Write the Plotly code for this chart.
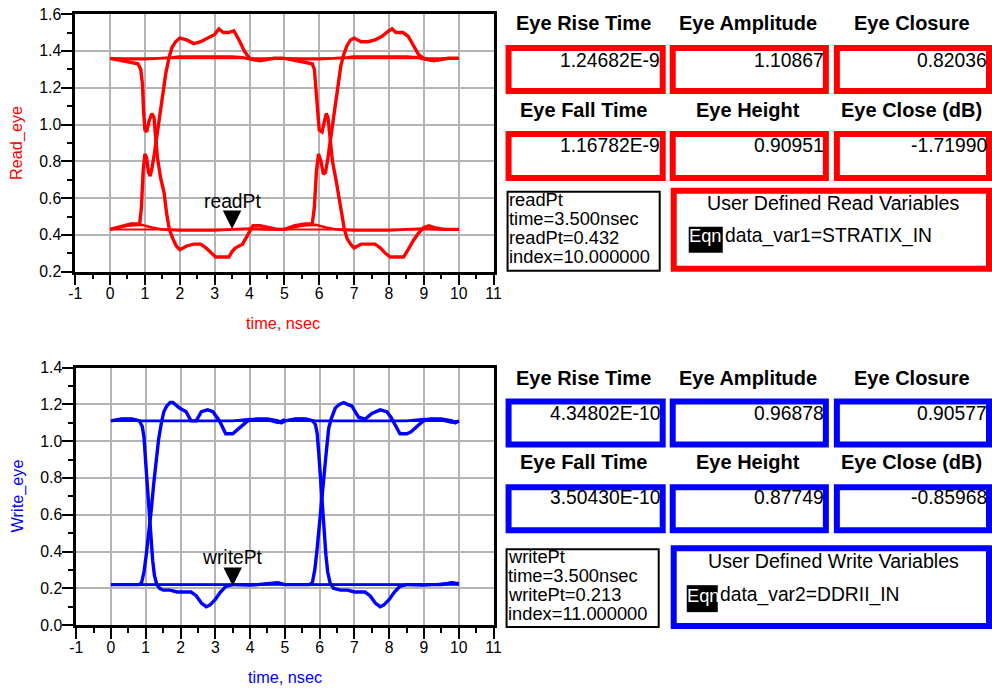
import plotly.graph_objects as go

# ---------------- data ----------------
time_span = [0, 10]
x_tick_vals = [-1, 0, 1, 2, 3, 4, 5, 6, 7, 8, 9, 10, 11]
x_tick_text = ["-1", "0", "1", "2", "3", "4", "5", "6", "7", "8", "9", "10", "11"]

# Read eye (red), values in volts, time in nsec
read_high_level = 1.36
read_low_level = 0.43

read_rise1_t = [0, 0.3, 0.6, 0.85, 0.9, 0.95, 1.0, 1.05, 1.1, 1.15, 1.2, 1.27, 1.35, 1.42, 1.5, 1.6, 1.7, 1.78, 1.88, 2.0, 2.2, 2.4, 2.6, 2.8, 3.0, 3.12, 3.25, 3.4, 3.55, 3.7, 3.85, 4.0, 4.2, 4.4, 4.7, 5.0]
read_rise1_v = [0.43, 0.445, 0.46, 0.46, 0.55, 0.75, 0.84, 0.82, 0.74, 0.72, 0.76, 0.84, 0.95, 1.06, 1.17, 1.28, 1.37, 1.42, 1.45, 1.47, 1.46, 1.44, 1.45, 1.47, 1.49, 1.52, 1.50, 1.50, 1.51, 1.46, 1.40, 1.36, 1.35, 1.35, 1.36, 1.36]
read_fall1_t = [0, 0.3, 0.6, 0.8, 0.88, 0.93, 0.96, 1.0, 1.05, 1.12, 1.2, 1.26, 1.3, 1.36, 1.45, 1.55, 1.62, 1.7, 1.8, 1.9, 2.0, 2.2, 2.4, 2.6, 2.75, 2.9, 3.03, 3.2, 3.41, 3.5, 3.6, 3.8, 3.95, 4.1, 4.3, 4.6, 4.8, 5.0]
read_fall1_v = [1.36, 1.35, 1.34, 1.33, 1.30, 1.22, 1.08, 0.97, 0.96, 1.02, 1.06, 1.04, 0.95, 0.82, 0.71, 0.63, 0.52, 0.43, 0.38, 0.34, 0.32, 0.34, 0.35, 0.35, 0.33, 0.30, 0.28, 0.28, 0.28, 0.31, 0.33, 0.35, 0.40, 0.45, 0.45, 0.44, 0.43, 0.43]
read_high1_t = [0, 0.5, 1.0, 1.5, 1.8, 2.0, 2.5, 3.0, 3.5, 3.8, 4.0, 4.3, 4.6, 5.0]
read_high1_v = [1.36, 1.355, 1.355, 1.36, 1.365, 1.37, 1.37, 1.37, 1.37, 1.365, 1.355, 1.345, 1.36, 1.36]
read_low1_t = [0, 0.5, 0.9, 1.2, 1.5, 2.0, 2.5, 3.0, 3.5, 4.0, 4.5, 5.0]
read_low1_v = [0.43, 0.45, 0.455, 0.44, 0.43, 0.425, 0.425, 0.425, 0.43, 0.435, 0.43, 0.43]

read_rise2_t = [5.0, 5.3, 5.6, 5.8, 5.86, 5.92, 5.98, 6.05, 6.12, 6.18, 6.25, 6.35, 6.45, 6.55, 6.62, 6.7, 6.8, 6.9, 7.0, 7.2, 7.4, 7.6, 7.8, 8.0, 8.09, 8.2, 8.4, 8.55, 8.7, 8.85, 9.0, 9.2, 9.4, 9.7, 10.0]
read_rise2_v = [0.43, 0.45, 0.46, 0.46, 0.55, 0.75, 0.84, 0.80, 0.73, 0.74, 0.82, 0.95, 1.08, 1.22, 1.32, 1.38, 1.43, 1.46, 1.47, 1.45, 1.45, 1.46, 1.48, 1.51, 1.52, 1.50, 1.50, 1.48, 1.43, 1.38, 1.36, 1.35, 1.35, 1.36, 1.36]
read_fall2_t = [5.0, 5.3, 5.6, 5.8, 5.86, 5.9, 5.95, 6.0, 6.08, 6.15, 6.2, 6.25, 6.3, 6.38, 6.48, 6.58, 6.66, 6.72, 6.8, 6.9, 7.0, 7.2, 7.4, 7.6, 7.75, 7.9, 8.04, 8.2, 8.42, 8.55, 8.7, 8.85, 9.0, 9.15, 9.3, 9.6, 9.8, 10.0]
read_fall2_v = [1.36, 1.35, 1.34, 1.33, 1.30, 1.22, 1.08, 0.97, 0.96, 1.02, 1.06, 1.04, 0.95, 0.8, 0.7, 0.6, 0.5, 0.43, 0.38, 0.35, 0.33, 0.35, 0.35, 0.35, 0.33, 0.30, 0.28, 0.28, 0.28, 0.32, 0.37, 0.41, 0.44, 0.45, 0.44, 0.43, 0.43, 0.43]
read_high2_t = [5.0, 5.5, 6.0, 6.5, 6.8, 7.0, 7.5, 8.0, 8.5, 8.8, 9.0, 9.3, 9.6, 10.0]
read_high2_v = [1.36, 1.355, 1.355, 1.36, 1.365, 1.37, 1.37, 1.37, 1.37, 1.365, 1.355, 1.345, 1.36, 1.36]
read_low2_t = [5.0, 5.5, 5.9, 6.2, 6.5, 7.0, 7.5, 8.0, 8.5, 9.0, 9.5, 10.0]
read_low2_v = [0.43, 0.45, 0.455, 0.44, 0.43, 0.425, 0.425, 0.425, 0.43, 0.435, 0.43, 0.43]

# Write eye (blue)
write_high_level = 1.11
write_low_level = 0.22

write_rise1_t = [0, 0.3, 0.6, 0.8, 0.88, 0.95, 1.02, 1.09, 1.16, 1.23, 1.3, 1.37, 1.45, 1.52, 1.6, 1.7, 1.78, 1.85, 1.97, 2.16, 2.3, 2.45, 2.6, 2.78, 2.93, 3.12, 3.3, 3.5, 3.69, 3.93, 4.2, 4.5, 4.8, 4.9, 5.0]
write_rise1_v = [0.22, 0.22, 0.22, 0.22, 0.23, 0.29, 0.39, 0.50, 0.63, 0.77, 0.90, 1.01, 1.10, 1.16, 1.19, 1.21, 1.21, 1.20, 1.18, 1.16, 1.11, 1.11, 1.16, 1.17, 1.16, 1.11, 1.04, 1.04, 1.07, 1.11, 1.12, 1.12, 1.11, 1.10, 1.11]
write_fall1_t = [0, 0.3, 0.6, 0.82, 0.9, 0.95, 1.0, 1.05, 1.1, 1.15, 1.2, 1.25, 1.32, 1.4, 1.5, 1.7, 1.9, 2.1, 2.3, 2.45, 2.6, 2.74, 2.85, 3.0, 3.15, 3.3, 3.5, 3.9, 4.2, 4.5, 4.8, 5.0]
write_fall1_v = [1.11, 1.12, 1.12, 1.11, 1.08, 1.02, 0.88, 0.74, 0.60, 0.47, 0.35, 0.27, 0.22, 0.20, 0.19, 0.19, 0.18, 0.18, 0.18, 0.16, 0.12, 0.10, 0.11, 0.14, 0.18, 0.21, 0.22, 0.22, 0.22, 0.225, 0.23, 0.22]
write_high1_t = [0, 0.3, 0.6, 0.9, 1.2, 1.5, 2.0, 2.5, 3.0, 3.5, 4.0, 4.3, 4.6, 4.8, 5.0]
write_high1_v = [1.11, 1.12, 1.12, 1.11, 1.11, 1.11, 1.11, 1.11, 1.11, 1.11, 1.12, 1.12, 1.11, 1.10, 1.12]
write_low1_t = [0, 0.5, 1.0, 1.5, 2.0, 2.5, 3.0, 3.5, 4.0, 4.5, 4.8, 5.0]
write_low1_v = [0.22, 0.22, 0.22, 0.22, 0.22, 0.22, 0.22, 0.22, 0.215, 0.225, 0.23, 0.22]

write_rise2_t = [5.0, 5.4, 5.7, 5.79, 5.86, 5.92, 5.98, 6.05, 6.12, 6.19, 6.26, 6.33, 6.45, 6.57, 6.69, 6.8, 6.93, 7.02, 7.12, 7.31, 7.5, 7.74, 7.93, 8.05, 8.17, 8.31, 8.5, 8.62, 8.74, 8.98, 9.2, 9.5, 9.8, 9.9, 10.0]
write_rise2_v = [0.22, 0.22, 0.22, 0.23, 0.30, 0.40, 0.51, 0.66, 0.80, 0.94, 1.07, 1.12, 1.18, 1.20, 1.21, 1.20, 1.19, 1.16, 1.13, 1.12, 1.15, 1.17, 1.16, 1.13, 1.09, 1.04, 1.04, 1.05, 1.07, 1.11, 1.12, 1.12, 1.11, 1.10, 1.11]
write_fall2_t = [5.0, 5.3, 5.6, 5.8, 5.88, 5.93, 5.98, 6.03, 6.08, 6.13, 6.18, 6.23, 6.3, 6.4, 6.6, 6.8, 7.0, 7.3, 7.45, 7.6, 7.74, 7.85, 8.0, 8.15, 8.3, 8.5, 8.8, 9.2, 9.5, 9.8, 10.0]
write_fall2_v = [1.11, 1.12, 1.12, 1.11, 1.09, 1.04, 0.92, 0.78, 0.64, 0.50, 0.38, 0.29, 0.23, 0.20, 0.19, 0.19, 0.18, 0.18, 0.16, 0.12, 0.10, 0.11, 0.14, 0.18, 0.21, 0.22, 0.22, 0.22, 0.22, 0.23, 0.225]
write_high2_t = [5.0, 5.3, 5.6, 5.9, 6.2, 6.5, 7.0, 7.5, 8.0, 8.5, 9.0, 9.3, 9.6, 9.8, 10.0]
write_high2_v = [1.11, 1.12, 1.12, 1.11, 1.11, 1.11, 1.11, 1.11, 1.11, 1.11, 1.12, 1.12, 1.11, 1.10, 1.11]
write_low2_t = [5.0, 5.5, 6.0, 6.5, 7.0, 7.5, 8.0, 8.5, 9.0, 9.5, 9.8, 10.0]
write_low2_v = [0.22, 0.22, 0.22, 0.22, 0.22, 0.22, 0.22, 0.22, 0.215, 0.225, 0.23, 0.225]

# markers
read_marker_time = 3.5
read_marker_value = 0.432
write_marker_time = 3.5
write_marker_value = 0.213

# measurement panels
meas_labels_row1 = ["Eye Rise Time", "Eye Amplitude", "Eye Closure"]
meas_labels_row2 = ["Eye Fall Time", "Eye Height", "Eye Close (dB)"]
read_values_row1 = ["1.24682E-9", "1.10867", "0.82036"]
read_values_row2 = ["1.16782E-9", "0.90951", "-1.71990"]
write_values_row1 = ["4.34802E-10", "0.96878", "0.90577"]
write_values_row2 = ["3.50430E-10", "0.87749", "-0.85968"]
read_marker_lines = ["readPt", "time=3.500nsec", "readPt=0.432", "index=10.000000"]
write_marker_lines = ["writePt", "time=3.500nsec", "writePt=0.213", "index=11.000000"]
read_var_title = "User Defined Read Variables"
write_var_title = "User Defined Write Variables"
read_eqn = "data_var1=STRATIX_IN"
write_eqn = "data_var2=DDRII_IN"

# ---------------- styling / layout ----------------
# Placements below are given in target-picture pixels (992x690).  The page that
# is photographed shows the figure with an 8px page margin and is reduced to
# 992x690, so picture pixels are converted to figure pixels here.
PIC_W, PIC_H = 992, 690
PAGE_MARGIN = 8
KX = PIC_W / (PIC_W + 2 * PAGE_MARGIN)
KY = PIC_H / (PIC_H + 2 * PAGE_MARGIN)
W = int(round(PIC_W / KX - PAGE_MARGIN))
H = int(round(PIC_H / KY - PAGE_MARGIN))
S = 1 / KX  # size factor for fonts
RED = "#ff0000"
BLUE = "#0000ff"
FONT = "Liberation Sans, Arial, sans-serif"
GRID = "#b4b4b4"


def px(x):
    return (x / KX - PAGE_MARGIN) / W


def py(y):
    return 1 - (y / KY - PAGE_MARGIN) / H


def fs(v):
    return round(v * S, 1)


fig = go.Figure()


def add_line(t, v, color, width, xa, ya):
    fig.add_trace(go.Scatter(x=t, y=v, mode="lines", line=dict(color=color, width=width),
                             xaxis=xa, yaxis=ya, showlegend=False, hoverinfo="skip",
                             cliponaxis=False))


# read eye
for t, v in [(read_rise1_t, read_rise1_v), (read_fall1_t, read_fall1_v),
             (read_rise2_t, read_rise2_v), (read_fall2_t, read_fall2_v)]:
    add_line(t, v, RED, 3.4, "x", "y")
for t, v in [(read_high1_t, read_high1_v), (read_low1_t, read_low1_v),
             (read_high2_t, read_high2_v), (read_low2_t, read_low2_v)]:
    add_line(t, v, RED, 2.6, "x", "y")
add_line(time_span, [read_high_level] * 2, RED, 2, "x", "y")
add_line(time_span, [read_low_level] * 2, RED, 2, "x", "y")

# write eye
for t, v in [(write_rise1_t, write_rise1_v), (write_fall1_t, write_fall1_v),
             (write_rise2_t, write_rise2_v), (write_fall2_t, write_fall2_v)]:
    add_line(t, v, BLUE, 3.4, "x2", "y2")
for t, v in [(write_high1_t, write_high1_v), (write_low1_t, write_low1_v),
             (write_high2_t, write_high2_v), (write_low2_t, write_low2_v)]:
    add_line(t, v, BLUE, 2.6, "x2", "y2")
add_line(time_span, [write_high_level] * 2, BLUE, 2, "x2", "y2")
add_line(time_span, [write_low_level] * 2, BLUE, 2, "x2", "y2")

tickfont = dict(family=FONT, size=fs(15.5), color="black")


def xaxis_cfg(domain, anchor):
    return dict(domain=domain, anchor=anchor, range=[-1, 11],
                tickmode="array", tickvals=x_tick_vals, ticktext=x_tick_text,
                showgrid=True, gridcolor=GRID, gridwidth=2, zeroline=False,
                showline=True, mirror=True, linecolor="black", linewidth=2.5,
                ticks="outside", ticklen=11, tickwidth=2, tickcolor="black",
                ticklabelstandoff=-5,
                minor=dict(dtick=0.5, ticks="outside", ticklen=5, tickwidth=1.5,
                           tickcolor="black", showgrid=False),
                tickfont=tickfont, fixedrange=True)


def yaxis_cfg(domain, anchor, rng):
    return dict(domain=domain, anchor=anchor, range=rng, dtick=0.2, tick0=0,
                tickformat=".1f", showgrid=True, gridcolor=GRID, gridwidth=2,
                zeroline=False, showline=True, mirror=True, linecolor="black",
                linewidth=2.5, ticks="outside", ticklen=11, tickwidth=2,
                tickcolor="black", ticklabelstandoff=-3,
                minor=dict(dtick=0.1, ticks="outside", ticklen=5, tickwidth=1.5,
                           tickcolor="black", showgrid=False),
                tickfont=tickfont, fixedrange=True)


shapes = []
annotations = []


def rect(x0, y0, x1, y1, color, width, fill=None):
    shapes.append(dict(type="rect", xref="paper", yref="paper",
                       x0=px(x0), x1=px(x1), y0=py(y1), y1=py(y0),
                       line=dict(color=color, width=width),
                       fillcolor=fill if fill else "rgba(0,0,0,0)", layer="above"))


def text(x, y, s, size=19, color="black", bold=False, xanchor="center", angle=0):
    annotations.append(dict(xref="paper", yref="paper", x=px(x), y=py(y),
                            text=("<b>%s</b>" % s) if bold else s, showarrow=False,
                            xanchor=xanchor, yanchor="middle", textangle=angle,
                            font=dict(family=FONT, size=fs(size), color=color),
                            borderpad=0, borderwidth=0))


# axis titles
text(18, 143, "Read_eye", 16, RED, angle=-90)
text(284, 323, "time, nsec", 16, RED)
text(18, 497, "Write_eye", 16, BLUE, angle=-90)
text(286, 678, "time, nsec", 16, BLUE)

# markers: label with a filled triangular arrow head pointing at the data point
for val, tm, lbl, xa, ya in [(read_marker_value, read_marker_time, "readPt", "x", "y"),
                              (write_marker_value, write_marker_time, "writePt", "x2", "y2")]:
    annotations.append(dict(xref=xa, yref=ya, x=tm, y=val, text=lbl, showarrow=True,
                            arrowhead=2, arrowsize=3.7, arrowwidth=1, arrowcolor="black",
                            ax=0, ay=-28, standoff=0, borderpad=0, borderwidth=0,
                            font=dict(family=FONT, size=fs(19), color="black")))

# panels
col_centers = [584, 748, 912]
box_x = [(506, 666), (670, 829), (834, 992)]
value_right = [660, 824, 987]


def panel(color, label_y1, box1_y, val1_y, label_y2, box2_y, val2_y, vals1, vals2,
          mbox, mlines_y, mlines, ubox, utitle_y, utitle, eqn_rect, eqn_y, eqn_text):
    bw = 6
    for i in range(3):
        text(col_centers[i], label_y1, meas_labels_row1[i], 19.7, bold=True)
        text(col_centers[i], label_y2, meas_labels_row2[i], 19.7, bold=True)
        x0, x1 = box_x[i]
        rect(x0 + bw / 2, box1_y[0] + bw / 2, x1 - bw / 2, box1_y[1] - bw / 2, color, bw)
        rect(x0 + bw / 2, box2_y[0] + bw / 2, x1 - bw / 2, box2_y[1] - bw / 2, color, bw)
        text(value_right[i], val1_y, vals1[i], 19, xanchor="right")
        text(value_right[i], val2_y, vals2[i], 19, xanchor="right")
    rect(*mbox, "black", 2)
    for yy, s in zip(mlines_y, mlines):
        text(mbox[0] + 1, yy, s, 18, xanchor="left")
    rect(ubox[0] + bw / 2, ubox[1] + bw / 2, ubox[2] - bw / 2, ubox[3] - bw / 2, color, bw)
    text((ubox[0] + ubox[2]) / 2 + 2, utitle_y, utitle, 19.3)
    rect(*eqn_rect, "black", 0, fill="black")
    text(eqn_rect[0], eqn_y, "Eqn", 18, color="white", xanchor="left")
    text(eqn_rect[2] + 2, eqn_y, eqn_text, 19, xanchor="left")


panel(RED, 23, (45, 94), 60, 110, (131, 181), 146, read_values_row1, read_values_row2,
      (508, 192, 660, 271), [200, 219, 238, 257], read_marker_lines,
      (671, 188, 992, 272), 203, read_var_title, (689, 227, 723, 253), 236, read_eqn)
panel(BLUE, 378, (399, 448), 414, 463, (485, 534), 498, write_values_row1, write_values_row2,
      (507, 550, 659, 628), [557.5, 576.5, 595.5, 614.5], write_marker_lines,
      (671, 546, 992, 630), 562, write_var_title, (687, 586, 718, 613), 596, write_eqn)

fig.update_layout(
    width=W, height=H, margin=dict(l=0, r=0, t=0, b=0),
    paper_bgcolor="white", plot_bgcolor="white", showlegend=False,
    xaxis=xaxis_cfg([px(76), px(494)], "y"),
    yaxis=yaxis_cfg([py(272), py(14)], "x", [0.2, 1.6]),
    xaxis2=xaxis_cfg([px(77), px(494)], "y2"),
    yaxis2=yaxis_cfg([py(626), py(368)], "x2", [0.0, 1.4]),
    shapes=shapes, annotations=annotations,
)

fig.write_html("out.html")
